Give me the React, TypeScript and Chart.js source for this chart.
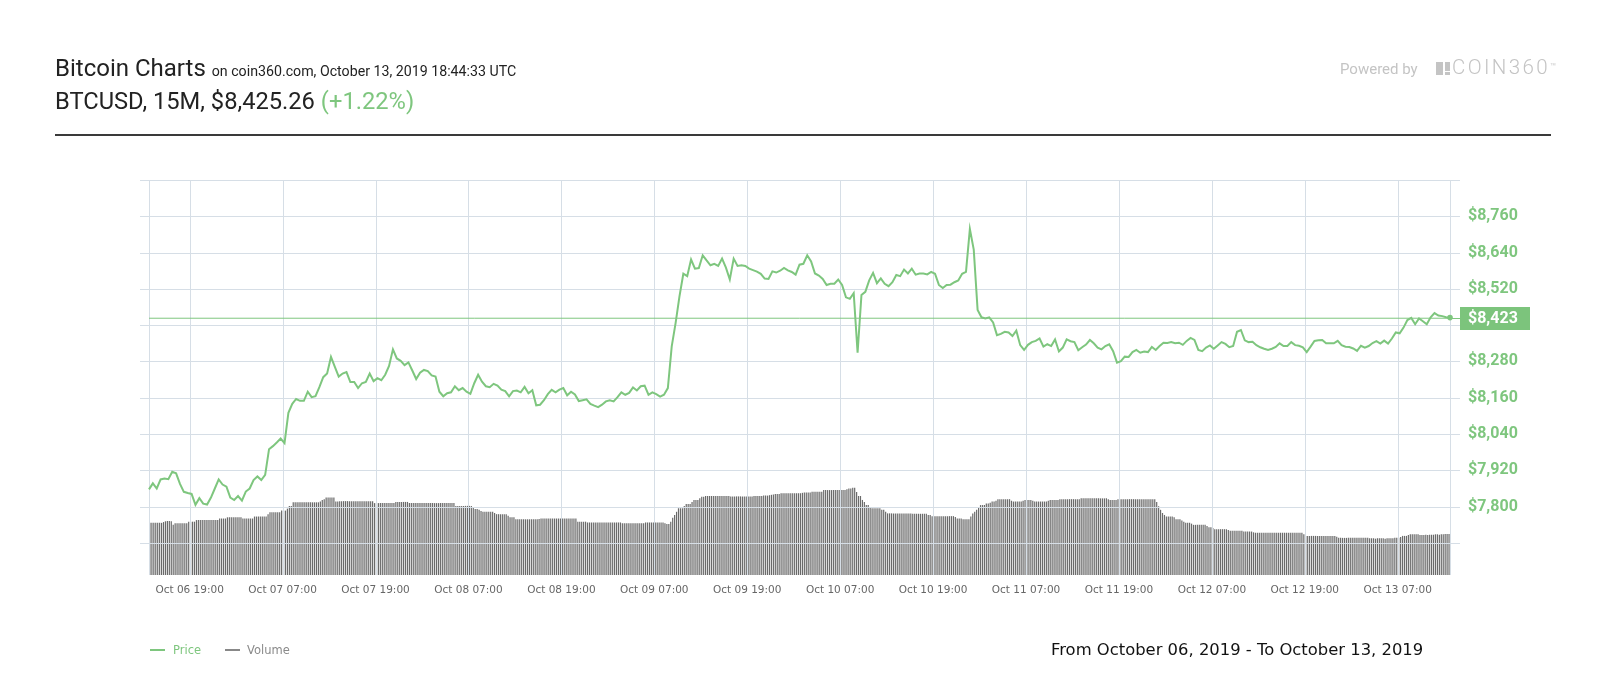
import React, { useEffect, useRef } from "react";
import { Chart, registerables } from "chart.js";

Chart.register(...registerables);

// ---- data ----
const PRICE_STEP_HOURS = 0.5; // price sampled every 30 min from Oct 06 13:45
const VOLUME_STEP_HOURS = 0.25; // one volume bar per 15 min
const SPAN_HOURS = 168;

const PRICE: number[] = [
  7857, 7877, 7860, 7890, 7893, 7891, 7915, 7910, 7875, 7849,
  7845, 7842, 7806, 7828, 7810, 7807, 7830, 7860, 7890, 7873,
  7866, 7830, 7822, 7835, 7820, 7850, 7860, 7888, 7900, 7888,
  7905, 7990, 8000, 8012, 8025, 8010, 8110, 8140, 8156, 8150,
  8150, 8180, 8162, 8165, 8195, 8228, 8240, 8295, 8262, 8230,
  8240, 8245, 8212, 8212, 8192, 8208, 8212, 8240, 8215, 8225,
  8218, 8236, 8265, 8320, 8290, 8282, 8268, 8277, 8250, 8222,
  8243, 8252, 8248, 8234, 8230, 8180, 8165, 8175, 8178, 8198,
  8185, 8192, 8180, 8173, 8208, 8236, 8213, 8198, 8195, 8206,
  8200, 8187, 8182, 8165, 8182, 8184, 8178, 8196, 8175, 8185,
  8135, 8137, 8152, 8172, 8186, 8178, 8187, 8192, 8168, 8180,
  8171, 8149, 8152, 8155, 8140, 8134, 8129, 8137, 8148, 8152,
  8148, 8162, 8178, 8170, 8176, 8194, 8184, 8198, 8200, 8170,
  8178, 8172, 8164, 8170, 8192, 8330, 8407, 8495, 8570, 8562,
  8617, 8587, 8589, 8631, 8614, 8598, 8603, 8596, 8620, 8590,
  8551, 8620, 8596, 8598, 8596, 8587, 8582, 8577, 8570, 8554,
  8553, 8578, 8574, 8580, 8589, 8581, 8576, 8567, 8600, 8603,
  8631, 8611, 8571, 8564, 8553, 8533, 8537, 8537, 8551, 8533,
  8492, 8487, 8506, 8309, 8500, 8510, 8548, 8573, 8539, 8555,
  8537, 8529, 8542, 8566, 8562, 8584, 8571, 8587, 8567, 8571,
  8571, 8568, 8576, 8570, 8533, 8523, 8533, 8534, 8542, 8548,
  8570, 8576, 8718, 8650, 8450, 8426, 8422, 8426, 8409, 8367,
  8371, 8378, 8376, 8364, 8382, 8334, 8318, 8335, 8344, 8348,
  8356, 8329, 8337, 8331, 8353, 8313, 8326, 8353, 8347, 8344,
  8317, 8327, 8336, 8351, 8340, 8326, 8320, 8331, 8337, 8314,
  8276, 8281, 8296, 8295, 8311, 8318, 8309, 8313, 8311, 8328,
  8318, 8331, 8342, 8341, 8344, 8340, 8342, 8335, 8348, 8358,
  8351, 8318, 8314, 8326, 8333, 8322, 8333, 8344, 8338, 8327,
  8331, 8378, 8384, 8350, 8344, 8345, 8334, 8327, 8322, 8318,
  8322, 8328, 8340, 8331, 8331, 8344, 8334, 8332, 8327, 8311,
  8329, 8348, 8350, 8351, 8340, 8340, 8340, 8348, 8334, 8329,
  8328, 8323, 8315, 8332, 8326, 8331, 8341, 8347, 8339, 8349,
  8339, 8356, 8376, 8373, 8392, 8417, 8424, 8403, 8422, 8413,
  8403, 8426, 8440, 8432, 8430, 8426, 8425,
];

const VOLUME: number[] = [
  132, 132, 132, 132, 132, 132, 132, 134, 136, 137, 137, 136, 127, 131, 131, 131, 131, 131, 131, 131, 135, 135, 135, 135,
  139, 139, 139, 139, 139, 139, 139, 139, 139, 139, 139, 139, 143, 143, 143, 143, 146, 146, 146, 146, 146, 146, 146, 146,
  143, 143, 143, 143, 143, 143, 148, 148, 148, 148, 148, 148, 148, 154, 159, 159, 159, 159, 159, 159, 163, 163, 163, 168,
  175, 175, 184, 184, 184, 184, 184, 184, 184, 184, 184, 184, 184, 184, 184, 184, 186, 190, 192, 196, 196, 196, 196, 196,
  186, 186, 187, 187, 187, 187, 187, 187, 187, 187, 187, 187, 187, 187, 187, 187, 187, 187, 187, 187, 182, 182, 182, 182,
  182, 182, 182, 182, 182, 182, 182, 185, 185, 185, 185, 185, 185, 185, 182, 182, 182, 182, 182, 182, 182, 182, 182, 182,
  182, 182, 182, 182, 182, 182, 182, 182, 182, 182, 182, 182, 182, 182, 175, 175, 175, 175, 175, 175, 175, 175, 175, 170,
  167, 167, 165, 162, 160, 160, 160, 160, 160, 160, 157, 154, 154, 154, 154, 154, 154, 150, 146, 146, 146, 141, 141, 141,
  141, 141, 141, 141, 141, 141, 141, 141, 141, 142, 143, 143, 143, 143, 143, 143, 143, 143, 143, 143, 143, 143, 143, 143,
  143, 143, 143, 143, 143, 135, 135, 135, 135, 135, 133, 133, 133, 133, 133, 133, 133, 133, 133, 133, 133, 133, 133, 133,
  133, 133, 133, 133, 131, 131, 131, 131, 131, 131, 131, 131, 131, 131, 131, 131, 133, 133, 133, 133, 133, 133, 133, 133,
  133, 133, 131, 129, 129, 135, 145, 152, 160, 169, 169, 169, 175, 180, 180, 180, 185, 190, 190, 190, 194, 198, 198, 200,
  200, 200, 200, 200, 200, 200, 200, 200, 200, 200, 200, 200, 199, 199, 199, 199, 199, 199, 199, 199, 199, 199, 199, 199,
  200, 200, 200, 200, 200, 201, 201, 201, 202, 203, 204, 205, 205, 205, 207, 207, 207, 207, 207, 207, 207, 207, 207, 207,
  207, 208, 209, 209, 209, 209, 211, 211, 211, 211, 211, 211, 215, 215, 215, 215, 215, 215, 215, 215, 215, 215, 215, 215,
  217, 219, 219, 221, 221, 210, 200, 200, 190, 185, 177, 177, 171, 169, 169, 169, 169, 169, 165, 165, 160, 156, 156, 156,
  156, 156, 156, 156, 156, 156, 156, 156, 156, 156, 155, 155, 155, 155, 155, 155, 155, 155, 152, 152, 149, 149, 149, 149,
  149, 149, 149, 149, 149, 149, 149, 149, 147, 143, 143, 143, 141, 141, 141, 141, 148, 156, 160, 165, 172, 177, 177, 177,
  181, 181, 183, 186, 186, 188, 192, 192, 192, 192, 192, 192, 192, 188, 186, 186, 186, 186, 186, 188, 190, 190, 190, 190,
  188, 186, 186, 186, 186, 186, 186, 186, 188, 190, 190, 190, 190, 190, 192, 192, 192, 192, 192, 192, 192, 192, 192, 192,
  192, 194, 194, 194, 194, 194, 194, 194, 194, 194, 194, 194, 194, 194, 194, 192, 190, 190, 190, 190, 192, 192, 192, 192,
  192, 192, 192, 192, 192, 192, 192, 192, 192, 192, 192, 192, 192, 192, 192, 192, 185, 174, 165, 157, 152, 148, 148, 148,
  148, 146, 141, 141, 141, 138, 135, 132, 132, 132, 130, 127, 127, 127, 127, 127, 127, 127, 124, 121, 121, 119, 116, 116,
  116, 116, 116, 116, 116, 114, 112, 112, 112, 112, 112, 112, 112, 110, 110, 110, 110, 110, 108, 107, 107, 107, 107, 107,
  107, 107, 107, 107, 107, 107, 107, 107, 107, 107, 107, 107, 107, 107, 107, 107, 107, 107, 107, 107, 103, 99, 99, 99,
  99, 99, 99, 99, 99, 99, 99, 99, 99, 99, 99, 99, 99, 97, 94, 94, 94, 94, 94, 94, 94, 94, 94, 94,
  94, 94, 94, 94, 94, 94, 93, 93, 93, 92, 93, 93, 93, 93, 92, 93, 93, 93, 93, 94, 94, 94, 96, 99,
  99, 99, 101, 103, 103, 103, 103, 103, 101, 101, 101, 102, 101, 102, 102, 102, 103, 103, 102, 103, 103, 104, 104, 104,
];

const TICK_HOURS: number[] = [5.25, 17.25, 29.25, 41.25, 53.25, 65.25, 77.25, 89.25, 101.25, 113.25, 125.25, 137.25, 149.25, 161.25];
const TICK_LABELS: string[] = [
  "Oct 06 19:00", "Oct 07 07:00", "Oct 07 19:00", "Oct 08 07:00", "Oct 08 19:00", "Oct 09 07:00", "Oct 09 19:00",
  "Oct 10 07:00", "Oct 10 19:00", "Oct 11 07:00", "Oct 11 19:00", "Oct 12 07:00", "Oct 12 19:00", "Oct 13 07:00",
];
const PRICE_TICKS: number[] = [7680, 7800, 7920, 8040, 8160, 8280, 8400, 8520, 8640, 8760, 8880];
const PRICE_LABELED: number[] = [7800, 7920, 8040, 8160, 8280, 8520, 8640, 8760];
const PRICE_MIN = 7574;
const PRICE_MAX = 8880;
const VOLUME_MAX = 1000;
const CURRENT_PRICE = 8423;

// ---- styles ----
const GREEN = "#7ec67e";
const GRID = "#d6dee6";
const BAR = "#6a6a6a";

const fmt = (v: number) => "$" + v.toLocaleString("en-US");

const gridOverBars = {
  id: "gridOverBars",
  afterDatasetDraw(chart: any, args: any) {
    if (args.meta.type !== "bar") return;
    const { ctx, chartArea: a, scales } = chart;
    ctx.save();
    ctx.strokeStyle = GRID;
    ctx.lineWidth = 1;
    ctx.beginPath();
    for (const v of PRICE_TICKS) {
      const y = Math.round(scales.y.getPixelForValue(v)) + 0.5;
      ctx.moveTo(a.left - 9, y);
      ctx.lineTo(a.right + 10, y);
    }
    for (const v of [0, ...TICK_HOURS, SPAN_HOURS]) {
      const x = Math.round(scales.x.getPixelForValue(v)) + 0.5;
      ctx.moveTo(x, a.top);
      ctx.lineTo(x, a.bottom);
    }
    ctx.stroke();
    ctx.restore();
  },
};

const priceBox = {
  id: "priceBox",
  afterDraw(chart: any) {
    const { ctx, chartArea: a, scales } = chart;
    const y = scales.y.getPixelForValue(CURRENT_PRICE);
    const x0 = a.right + 10;
    ctx.save();
    ctx.strokeStyle = GREEN;
    ctx.lineWidth = 1;
    ctx.beginPath();
    ctx.moveTo(a.right, Math.round(y) + 0.5);
    ctx.lineTo(x0, Math.round(y) + 0.5);
    ctx.stroke();
    ctx.fillStyle = "#7cc47c";
    ctx.fillRect(x0, Math.round(y) - 11, 70, 23);
    ctx.fillStyle = "#ffffff";
    ctx.font = "bold 16px Roboto";
    ctx.textBaseline = "middle";
    ctx.textAlign = "left";
    ctx.fillText(fmt(CURRENT_PRICE), x0 + 8, Math.round(y) + 1);
    ctx.restore();
  },
};

function PriceChart() {
  const ref = useRef<HTMLCanvasElement | null>(null);
  useEffect(() => {
    if (!ref.current) return;
    const priceData = PRICE.map((y, i) => ({ x: i * PRICE_STEP_HOURS, y }));
    const volumeData = VOLUME.map((y, i) => ({ x: (i + 0.5) * VOLUME_STEP_HOURS, y }));
    const last = PRICE.length - 1;
    const chart = new Chart(ref.current, {
      type: "line",
      data: {
        datasets: [
          {
            type: "line",
            label: "Price",
            data: priceData,
            yAxisID: "y",
            borderColor: GREEN,
            backgroundColor: GREEN,
            borderWidth: 2,
            tension: 0,
            pointRadius: (c: any) => (c.dataIndex === last ? 2.8 : 0),
            pointBorderWidth: 0,
            pointBackgroundColor: GREEN,
            clip: 6,
            order: 1,
          } as any,
          {
            type: "line",
            label: "Current",
            data: [
              { x: 0, y: CURRENT_PRICE },
              { x: SPAN_HOURS, y: CURRENT_PRICE },
            ],
            yAxisID: "y",
            borderColor: GREEN,
            borderWidth: 1,
            pointRadius: 0,
            order: 2,
          } as any,
          {
            type: "bar",
            label: "Volume",
            data: volumeData,
            yAxisID: "yv",
            backgroundColor: BAR,
            borderWidth: 0,
            barPercentage: 0.62,
            categoryPercentage: 1,
            order: 3,
          } as any,
        ],
      },
      options: {
        responsive: false,
        animation: false,
        events: [],
        layout: { padding: { left: 149, top: 180, right: 70, bottom: 95 } },
        plugins: { legend: { display: false }, tooltip: { enabled: false } },
        scales: {
          x: {
            type: "linear",
            min: 0,
            max: SPAN_HOURS,
            offset: false,
            afterBuildTicks: (s: any) => {
              s.ticks = TICK_HOURS.map((v) => ({ value: v }));
            },
            afterFit: (s: any) => {
              s.height = 30;
            },
            ticks: {
              autoSkip: false,
              maxRotation: 0,
              padding: 9,
              color: "#666666",
              font: { family: "DejaVu Sans", size: 10.5 },
              callback: (v: any) => {
                const i = TICK_HOURS.indexOf(Number(v));
                return i >= 0 ? TICK_LABELS[i] : "";
              },
            },
            grid: { display: false, drawTicks: false },
            border: { display: false },
          },
          y: {
            type: "linear",
            position: "right",
            min: PRICE_MIN,
            max: PRICE_MAX,
            afterBuildTicks: (s: any) => {
              s.ticks = PRICE_TICKS.map((v) => ({ value: v }));
            },
            afterFit: (s: any) => {
              s.width = 80;
            },
            ticks: {
              padding: 18,
              color: GREEN,
              font: { family: "Roboto", size: 16, weight: "bold" },
              callback: (v: any) => (PRICE_LABELED.includes(Number(v)) ? fmt(Number(v)) : ""),
            },
            grid: { display: false, drawTicks: false },
            border: { display: false },
          },
          yv: {
            type: "linear",
            display: false,
            min: 0,
            max: VOLUME_MAX,
          },
        },
      } as any,
      plugins: [gridOverBars, priceBox],
    });
    return () => chart.destroy();
  }, []);
  return (
    <canvas
      ref={ref}
      width={1600}
      height={700}
      style={{ position: "absolute", left: 0, top: 0, width: 1600, height: 700 }}
    />
  );
}

export default function App() {
  const roboto = "Roboto, 'Noto Sans', sans-serif";
  const dejavu = "'DejaVu Sans', sans-serif";
  const logo = "#c4c4c4";
  return (
    <div style={{ position: "absolute", left: 0, top: 0, width: 1600, height: 700, background: "#fff", overflow: "hidden" }}>
      <PriceChart />
      <div style={{ position: "absolute", left: 55, top: 56, fontFamily: roboto, fontSize: 24, lineHeight: "24px", color: "#222", whiteSpace: "nowrap" }}>
        Bitcoin Charts <span style={{ fontSize: 14.2 }}>on coin360.com, October 13, 2019 18:44:33 UTC</span>
      </div>
      <div style={{ position: "absolute", left: 55, top: 89, fontFamily: roboto, fontSize: 23.7, lineHeight: "24px", color: "#222", whiteSpace: "nowrap" }}>
        BTCUSD, 15M, $8,425.26 <span style={{ color: GREEN }}>(+1.22%)</span>
      </div>
      <div style={{ position: "absolute", left: 55, top: 134, width: 1496, height: 2, background: "#3a3a3a" }} />
      <div style={{ position: "absolute", left: 1340, top: 62, fontFamily: roboto, fontSize: 15, lineHeight: "15px", color: logo, whiteSpace: "nowrap" }}>
        Powered by
      </div>
      <div style={{ position: "absolute", left: 1436, top: 62, width: 7, height: 13, background: logo }} />
      <div style={{ position: "absolute", left: 1445, top: 62, width: 5, height: 9, background: logo }} />
      <div style={{ position: "absolute", left: 1445, top: 72, width: 5, height: 3, background: logo }} />
      <div style={{ position: "absolute", left: 1452, top: 57, fontFamily: roboto, fontWeight: 300, fontSize: 20.5, lineHeight: "21px", letterSpacing: 2.4, color: logo, whiteSpace: "nowrap" }}>
        COIN360<span style={{ fontSize: 10, verticalAlign: "top", letterSpacing: 0, position: "relative", top: -1 }}>™</span>
      </div>
      <div style={{ position: "absolute", left: 150, top: 649, width: 15, height: 2, background: GREEN }} />
      <div style={{ position: "absolute", left: 173, top: 643, fontFamily: dejavu, fontSize: 11.5, lineHeight: "14px", color: GREEN, whiteSpace: "nowrap" }}>
        Price
      </div>
      <div style={{ position: "absolute", left: 225, top: 649, width: 15, height: 2, background: "#888" }} />
      <div style={{ position: "absolute", left: 247, top: 643, fontFamily: dejavu, fontSize: 11.5, lineHeight: "14px", color: "#8a8a8a", whiteSpace: "nowrap" }}>
        Volume
      </div>
      <div style={{ position: "absolute", left: 1051, top: 640, fontFamily: dejavu, fontSize: 16.4, lineHeight: "20px", color: "#111", whiteSpace: "nowrap" }}>
        From October 06, 2019 - To October 13, 2019
      </div>
    </div>
  );
}
